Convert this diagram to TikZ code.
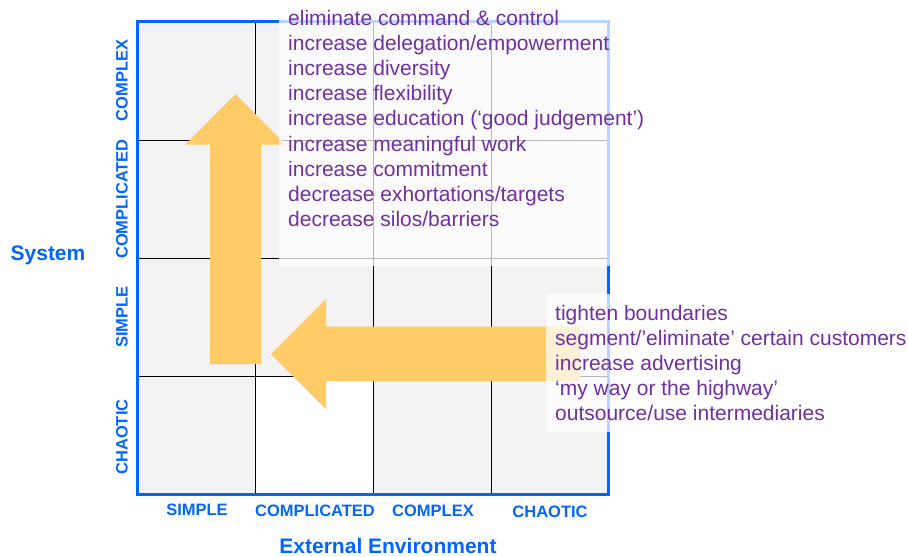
\documentclass[tikz,border=0pt]{standalone}
\usepackage{fontspec}
\setmainfont{Liberation Sans}
\definecolor{axisblue}{HTML}{0066FF}
\definecolor{txtpurple}{HTML}{7030A0}
\definecolor{cellgray}{HTML}{F2F2F2}
\definecolor{arrowyellow}{HTML}{FECB66}
\begin{document}
\begin{tikzpicture}[x=1pt,y=-1pt,
  gridline/.style={black,line width=1pt},
  border/.style={axisblue,line width=3pt},
  blockarrow/.style={fill=arrowyellow,draw=none},
  veil/.style={fill=white,fill opacity=0.72,draw=none},
  item/.style={anchor=base west,inner sep=0pt,text=txtpurple,font=\fontsize{21}{25}\selectfont},
  axislab/.style={text=axisblue,font=\bfseries\fontsize{16.5}{18}\selectfont,inner sep=0pt},
  axistitle/.style={text=axisblue,font=\bfseries\fontsize{21}{24}\selectfont,inner sep=0pt}]
\useasboundingbox (0,0) rectangle (908,557);
% grid cells
\fill[cellgray] (137,21) rectangle (608,494);
\fill[white] (255,376) rectangle (373,494);
% grid lines
\foreach \gx in {255,373,491} \draw[gridline] (\gx,21) -- (\gx,494);
\foreach \gy in {140,258,376} \draw[gridline] (137,\gy) -- (608,\gy);
\draw[border] (137,21) rectangle (608,494);
% block arrows
\fill[blockarrow] (235.5,94) -- (285.5,144.5) -- (261,144.5) -- (261,364) -- (210,364) -- (210,144.5) -- (185.5,144.5) -- cycle;
\fill[blockarrow] (271,354) -- (326,299) -- (326,326.5) -- (580,326.5) -- (580,381) -- (326,381) -- (326,409) -- cycle;
% semi-transparent text boxes
\fill[veil] (279,5) rectangle (660,266);
\fill[veil] (546,294) rectangle (908,432);
% top list
\node[item] (t1) at (288,25) {eliminate command \& control};
\node[item] (t2) at (288,50.2) {increase delegation/empowerment};
\node[item] (t3) at (288,75.4) {increase diversity};
\node[item] (t4) at (288,100.6) {increase flexibility};
\node[item] (t5) at (288,125.8) {increase education (‘good judgement’)};
\node[item] (t6) at (288,151) {increase meaningful work};
\node[item] (t7) at (288,176.2) {increase commitment};
\node[item] (t8) at (288,201.4) {decrease exhortations/targets};
\node[item] (t9) at (288,226.6) {decrease silos/barriers};
% right list
\node[item] (r1) at (555,320.5) {tighten boundaries};
\node[item] (r2) at (555,345.5) {segment/’eliminate’ certain customers};
\node[item] (r3) at (555,370.5) {increase advertising};
\node[item] (r4) at (555,395.5) {‘my way or the highway’};
\node[item] (r5) at (555,420.5) {outsource/use intermediaries};
% axis labels
\node[axislab,rotate=90] (yl1) at (122,80.5) {COMPLEX};
\node[axislab,rotate=90] (yl2) at (122,199) {COMPLICATED};
\node[axislab,rotate=90] (yl3) at (122,317) {SIMPLE};
\node[axislab,rotate=90] (yl4) at (122,437) {CHAOTIC};
\node[axislab] (xl1) at (197,510) {SIMPLE};
\node[axislab] (xl2) at (315,511) {COMPLICATED};
\node[axislab] (xl3) at (433,511) {COMPLEX};
\node[axislab] (xl4) at (550,512) {CHAOTIC};
\node[axistitle] (xt) at (388,546) {External Environment};
\node[axistitle] (yt) at (48,255) {System};
\end{tikzpicture}
\end{document}
